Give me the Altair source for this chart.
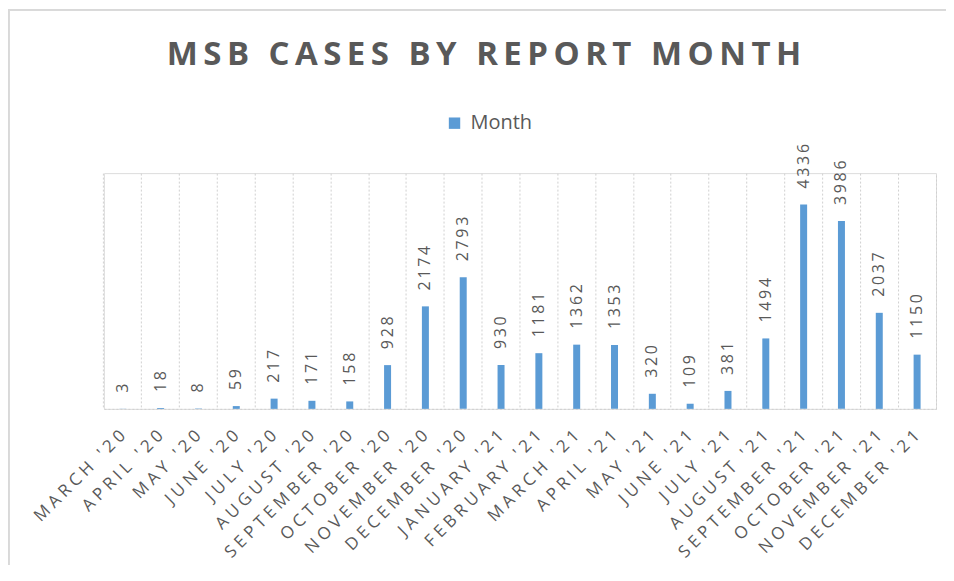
import altair as alt
import pandas as pd

MONTHS = [
    "MARCH '20", "APRIL '20", "MAY '20", "JUNE '20", "JULY '20", "AUGUST '20",
    "SEPTEMBER '20", "OCTOBER '20", "NOVEMBER '20", "DECEMBER '20",
    "JANUARY '21", "FEBRUARY '21", "MARCH '21", "APRIL '21", "MAY '21",
    "JUNE '21", "JULY '21", "AUGUST '21", "SEPTEMBER '21", "OCTOBER '21",
    "NOVEMBER '21", "DECEMBER '21",
]
CASES = [3, 18, 8, 59, 217, 171, 158, 928, 2174, 2793, 930, 1181, 1362, 1353,
         320, 109, 381, 1494, 4336, 3986, 2037, 1150]
SERIES = "Month"
TITLE = "MSB CASES BY REPORT MONTH"

df = pd.DataFrame({"month": MONTHS, "cases": CASES, "series": [SERIES] * len(MONTHS)})

BLUE = "#5B9BD5"
GREY = "#595959"
GRID = "#D0D0D0"
BORDER = "#D9D9D9"
THIN = "\u2009"
MID = "\u2005"


def spaced(expr, gap):
    return "replace(%s, regexp('(.)(?=.)', 'g'), '$1%s')" % (expr, gap)


W, H = 833, 236

x = alt.X(
    "month:N", sort=MONTHS,
    scale=alt.Scale(paddingInner=0, paddingOuter=0),
    axis=alt.Axis(
        title=None, labelAngle=-45, bandPosition=0,
        grid=True, gridColor=GRID, gridDash=[2, 2],
        domainColor=GRID, domainDash=[2, 2],
        ticks=False, tickSize=0, labelPadding=24,
        labelFont="Open Sans", labelFontSize=17, labelColor=GREY,
        labelExpr=spaced("datum.label", MID),
        labelOverlap=False, labelBound=False,
        labelAlign="right", labelBaseline="middle",
    ),
)
y = alt.Y(
    "cases:Q", scale=alt.Scale(domain=[0, 5000], nice=False),
    axis=alt.Axis(orient="right", title=None, labels=False, ticks=False,
                  grid=False, domainColor=GRID, domainDash=[2, 2]),
)

base = alt.Chart(df).encode(x=x, y=y)

bars = base.mark_bar(size=7).encode(
    color=alt.Color(
        "series:N", scale=alt.Scale(range=[BLUE]),
        legend=alt.Legend(
            title=None, orient="none", legendX=341, legendY=-60,
            symbolType="square", symbolSize=130, symbolStrokeWidth=0,
            labelFont="Open Sans", labelFontSize=20, labelColor=GREY,
            labelOffset=6,
        ),
    )
)

labels = base.transform_calculate(
    lab=spaced("toString(datum.cases)", THIN)
).mark_text(
    angle=270, align="left", baseline="middle", dx=16,
    font="Open Sans", fontSize=16, color=GREY,
).encode(text="lab:N")

# thin frame around the whole chart (top and left edges visible in reference)
frame_top = alt.Chart(df).mark_rule(color=BORDER, strokeWidth=1.5).encode(
    x=alt.value(-96), x2=alt.value(W + 12), y=alt.value(-163.5)
)
frame_left = alt.Chart(df).mark_rule(color=BORDER, strokeWidth=1.5).encode(
    x=alt.value(-95.5), y=alt.value(-164), y2=alt.value(H + 170)
)

chart = alt.layer(frame_top, frame_left, bars, labels).properties(
    width=W, height=H,
    autosize=alt.AutoSizeParams(type="none"),
    padding={"left": 96, "top": 165, "right": 10, "bottom": 156},
    title=alt.TitleParams(
        THIN.join(TITLE), font="Open Sans", fontSize=33, fontWeight="bold",
        color=GREY, anchor="middle", frame="bounds", offset=-90, dx=6,
        baseline="alphabetic",
    ),
).configure_view(stroke="transparent", strokeWidth=0).configure(background="white")

chart.save("out.html", embed_options={"renderer": "svg", "actions": False})
